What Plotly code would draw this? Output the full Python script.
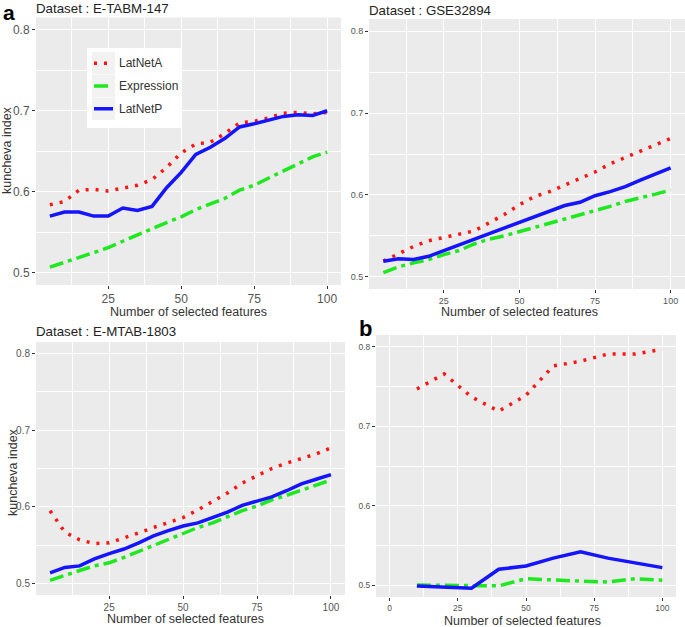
import plotly.graph_objects as go

W, H = 685, 627

# ---------------- data ----------------
x_top = [5, 10, 15, 20, 25, 30, 35, 40, 45, 50, 55, 60, 65, 70, 75, 80, 85, 90, 95, 100]

# Panel a1 : E-TABM-147
tabm_latneta = [0.584, 0.588, 0.602, 0.603, 0.601, 0.605, 0.608, 0.615, 0.630, 0.648,
                0.659, 0.661, 0.672, 0.685, 0.687, 0.691, 0.697, 0.698, 0.696, 0.698]
tabm_expr = [0.507, 0.513, 0.519, 0.526, 0.531, 0.539, 0.547, 0.555, 0.562, 0.569,
             0.578, 0.585, 0.592, 0.602, 0.608, 0.617, 0.626, 0.635, 0.643, 0.649]
tabm_latnetp = [0.570, 0.575, 0.575, 0.570, 0.570, 0.580, 0.577, 0.582, 0.605, 0.624,
                0.646, 0.655, 0.666, 0.680, 0.684, 0.688, 0.693, 0.695, 0.694, 0.700]

# Panel a2 : GSE32894
gse_latneta = [0.519, 0.528, 0.537, 0.544, 0.548, 0.552, 0.556, 0.566, 0.576, 0.588,
               0.598, 0.604, 0.612, 0.619, 0.628, 0.638, 0.646, 0.654, 0.662, 0.669]
gse_expr = [0.505, 0.512, 0.517, 0.521, 0.527, 0.532, 0.540, 0.546, 0.550, 0.555,
            0.560, 0.565, 0.571, 0.575, 0.580, 0.586, 0.592, 0.596, 0.601, 0.606]
gse_latnetp = [0.519, 0.522, 0.521, 0.525, 0.532, 0.539, 0.545, 0.552, 0.560, 0.566,
               0.573, 0.580, 0.587, 0.591, 0.599, 0.604, 0.610, 0.618, 0.626, 0.633]

# Panel a3 : E-MTAB-1803
mtab_latneta = [0.595, 0.567, 0.557, 0.552, 0.553, 0.559, 0.566, 0.573, 0.580, 0.586,
                0.596, 0.607, 0.618, 0.631, 0.641, 0.650, 0.657, 0.663, 0.669, 0.677]
mtab_expr = [0.504, 0.511, 0.517, 0.523, 0.527, 0.534, 0.542, 0.550, 0.557, 0.565,
             0.573, 0.579, 0.587, 0.595, 0.601, 0.609, 0.615, 0.622, 0.628, 0.635]
mtab_latnetp = [0.514, 0.521, 0.523, 0.532, 0.539, 0.545, 0.553, 0.562, 0.569, 0.575,
                0.579, 0.586, 0.593, 0.602, 0.608, 0.613, 0.621, 0.630, 0.636, 0.642]

# Panel b
x_b = [10, 20, 30, 40, 50, 60, 70, 80, 90, 100]
b_latneta = [0.747, 0.766, 0.737, 0.719, 0.739, 0.776, 0.782, 0.791, 0.791, 0.797]
b_expr = [0.500, 0.500, 0.499, 0.499, 0.508, 0.506, 0.505, 0.504, 0.508, 0.506]
b_latnetp = [0.499, 0.498, 0.496, 0.520, 0.524, 0.534, 0.542, 0.534, 0.528, 0.522]

series_names = ["LatNetA", "Expression", "LatNetP"]
titles = ["Dataset : E-TABM-147", "Dataset : GSE32894", "Dataset : E-MTAB-1803", ""]
x_title = "Number of selected features"
y_title = "kuncheva index"
y_ticks = [0.5, 0.6, 0.7, 0.8]

# ---------------- styles ----------------
RED, GREEN, BLUE = "#ff1414", "#1ee81e", "#1414ff"
DOT = "3px,7px"
DOTDASH = "14px,5px,4px,5px"
LW = 3.5
FONT = "Liberation Sans, Arial, sans-serif"
BG = "#ebebeb"


def px(x):
    return x / W


def py(y):
    return 1 - y / H


# panel pixel boxes (left, right, top, bottom), tick font size
boxes = [
    (36, 341, 17.5, 285, 12),
    (369, 685, 19, 289, 9),
    (36, 345, 342, 595, 10),
    (376, 676, 335, 597, 8.5),
]
xranges = [[0.25, 104.75], [0.25, 104.75], [0.25, 104.75], [-5, 105]]
yrange = [0.485, 0.815]

data = [
    (x_top, tabm_latneta, tabm_expr, tabm_latnetp),
    (x_top, gse_latneta, gse_expr, gse_latnetp),
    (x_top, mtab_latneta, mtab_expr, mtab_latnetp),
    (x_b, b_latneta, b_expr, b_latnetp),
]

fig = go.Figure()
layout = {}
for i, ((l, r, t, b, fs), xr, (xs, ya, ye, yp)) in enumerate(zip(boxes, xranges, data)):
    n = "" if i == 0 else str(i + 1)
    xa, ya_ = "x" + n, "y" + n
    for vals, col, dash, name in [(ya, RED, DOT, series_names[0]),
                                  (ye, GREEN, DOTDASH, series_names[1]),
                                  (yp, BLUE, None, series_names[2])]:
        fig.add_trace(go.Scatter(
            x=xs, y=vals, mode="lines", name=name, showlegend=False,
            line=dict(color=col, width=LW, dash=dash),
            xaxis=xa, yaxis=ya_))
    common = dict(
        ticks="outside", ticklen=3, tickwidth=1, tickcolor="#333333",
        showgrid=True, gridcolor="white", gridwidth=1.1,
        zeroline=False, showline=False,
        tickfont=dict(family=FONT, size=fs, color="#555555"),
    )
    layout["xaxis" + n] = dict(
        domain=[px(l), px(r)], range=xr, anchor=ya_,
        tick0=0, dtick=25,
        minor=dict(dtick=12.5, tick0=0, showgrid=True, gridcolor="white",
                   gridwidth=0.5, ticks=""),
        **common)
    layout["yaxis" + n] = dict(
        domain=[py(b), py(t)], range=yrange, anchor=xa,
        tickvals=y_ticks, ticktext=[f"{v:.1f}" for v in y_ticks],
        minor=dict(tickvals=[0.55, 0.65, 0.75], showgrid=True, gridcolor="white",
                   gridwidth=0.5, ticks=""),
        **common)

annotations = []


def ann(text, x, y, size, color="#222222", xanchor="center", yanchor="middle",
        angle=0, bold=False):
    annotations.append(dict(
        text=f"<b>{text}</b>" if bold else text, x=px(x), y=py(y),
        xref="paper", yref="paper", showarrow=False, xanchor=xanchor,
        yanchor=yanchor, textangle=angle, borderpad=0,
        font=dict(family=FONT, size=size, color=color)))


# dataset titles
ann(titles[0], 35, 8, 13.3, xanchor="left")
ann(titles[1], 368, 10, 13.3, xanchor="left")
ann(titles[2], 35, 331, 13.3, xanchor="left")
# x-axis titles
ann(x_title, 188, 312, 12.5, color="#333333")
ann(x_title, 519, 311.5, 12.5, color="#333333")
ann(x_title, 185, 619, 12.5, color="#333333")
ann(x_title, 522, 621, 12.5, color="#333333")
# y-axis titles
ann(y_title, 7, 150, 12.5, color="#333333", angle=-90)
ann(y_title, 13, 472, 12.5, color="#333333", angle=-90)
# panel letters
ann("a", 9, 0, 21, color="#000000", yanchor="top", bold=True)
ann("b", 365, 328, 22, color="#000000", bold=True)

# manual legend (panel a1)
shapes = [dict(type="rect", xref="paper", yref="paper",
               x0=px(87), x1=px(181), y0=py(128), y1=py(48),
               fillcolor="white", line=dict(width=0), layer="above")]
leg_rows = [(52, 74.5), (75, 97), (97.5, 120)]
for (t0, t1), col, dash, name in zip(leg_rows, [RED, GREEN, BLUE],
                                     [DOT, DOTDASH, None], series_names):
    shapes.append(dict(type="rect", xref="paper", yref="paper",
                       x0=px(92), x1=px(115), y0=py(t1), y1=py(t0),
                       fillcolor="#f2f2f2", line=dict(width=0), layer="above"))
    yc = (t0 + t1) / 2
    shapes.append(dict(type="line", xref="paper", yref="paper",
                       x0=px(94), x1=px(113), y0=py(yc), y1=py(yc),
                       line=dict(color=col, width=LW, dash=dash), layer="above"))
    ann(name, 118, yc, 12, color="#333333", xanchor="left")

fig.update_layout(
    width=W, height=H, margin=dict(l=0, r=0, t=0, b=0),
    paper_bgcolor="white", plot_bgcolor=BG, showlegend=False,
    annotations=annotations, shapes=shapes,
    **layout)

fig.write_html("out.html",
               config={"displayModeBar": False},
               post_script="document.body.style.margin='0px';"
                           "document.body.style.overflow='hidden';")
